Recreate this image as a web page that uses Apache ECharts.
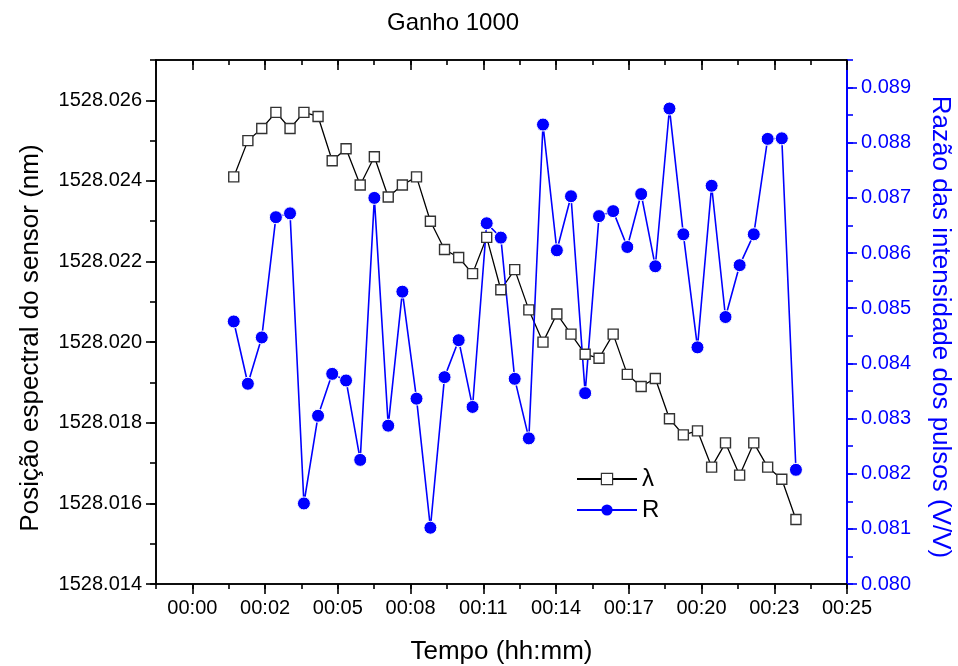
<!DOCTYPE html>
<html>
<head>
<meta charset="utf-8">
<script src="https://cdn.jsdelivr.net/npm/echarts@6/dist/echarts.min.js"></script>
<style>
html,body{margin:0;padding:0;background:#fff;}
#chart{width:958px;height:666px;}
</style>
</head>
<body>
<div id="chart"></div>
<script>
// ---- data ----
const timeMinutes = [1.58, 2.12, 2.65, 3.19, 3.73, 4.26, 4.80, 5.34, 5.87, 6.41, 6.95, 7.48, 8.02, 8.56, 9.09, 9.63, 10.17, 10.70, 11.24, 11.78, 12.31, 12.85, 13.39, 13.92, 14.46, 15.00, 15.53, 16.07, 16.61, 17.14, 17.68, 18.22, 18.75, 19.29, 19.83, 20.36, 20.90, 21.44, 21.97, 22.51, 23.05];
const lambdaValues = [1528.0241, 1528.0250, 1528.0253, 1528.0257, 1528.0253, 1528.0257, 1528.0256, 1528.0245, 1528.0248, 1528.0239, 1528.0246, 1528.0236, 1528.0239, 1528.0241, 1528.0230, 1528.0223, 1528.0221, 1528.0217, 1528.0226, 1528.0213, 1528.0218, 1528.0208, 1528.0200, 1528.0207, 1528.0202, 1528.0197, 1528.0196, 1528.0202, 1528.0192, 1528.0189, 1528.0191, 1528.0181, 1528.0177, 1528.0178, 1528.0169, 1528.0175, 1528.0167, 1528.0175, 1528.0169, 1528.0166, 1528.0156];
const rValues = [0.08476, 0.08363, 0.08447, 0.08665, 0.08672, 0.08146, 0.08305, 0.08381, 0.08369, 0.08225, 0.08700, 0.08287, 0.08530, 0.08336, 0.08102, 0.08375, 0.08442, 0.08321, 0.08654, 0.08628, 0.08372, 0.08264, 0.08833, 0.08605, 0.08703, 0.08346, 0.08667, 0.08676, 0.08611, 0.08707, 0.08576, 0.08862, 0.08634, 0.08429, 0.08722, 0.08484, 0.08578, 0.08634, 0.08807, 0.08808, 0.08207];
const xTickLabels = ["00:00", "00:02", "00:05", "00:08", "00:11", "00:14", "00:17", "00:20", "00:23", "00:25"];
const leftTickValues = [1528.014, 1528.016, 1528.018, 1528.020, 1528.022, 1528.024, 1528.026];
const rightTickValues = [0.080, 0.081, 0.082, 0.083, 0.084, 0.085, 0.086, 0.087, 0.088, 0.089];

// ---- axis setup ----
const X_STEP = 25 / 9;           // minutes between labelled ticks
const X_HALF = X_STEP / 2;
const X_MIN = -X_HALF;
const X_MAX = 25;
const xMajor = xTickLabels.map((_, i) => i * X_STEP);

const FONT = 'Liberation Sans, Arial, sans-serif';
const BLACK = '#000';
const BLUE = '#0000ff';

function xAxisBase(pos) {
  return {
    type: 'value', position: pos, min: X_MIN, max: X_MAX,
    splitLine: {show: false},
    axisLine: {show: true, onZero: false, lineStyle: {color: BLACK, width: 1.6}},
  };
}

const chart = echarts.init(document.getElementById('chart'), null, {renderer: 'canvas'});
chart.setOption({
  animation: false,
  backgroundColor: '#fff',
  title: {
    text: 'Ganho 1000', left: 382, top: 6,
    textStyle: {fontFamily: FONT, fontSize: 24, fontWeight: 'normal', color: BLACK}
  },
  grid: {left: 156, right: 111, top: 60, bottom: 82, containLabel: false, outerBoundsMode: 'none'},
  legend: {
    orient: 'vertical', left: 571, top: 462, itemWidth: 60, itemHeight: 14, itemGap: 7,
    textStyle: {fontFamily: FONT, fontSize: 24, color: BLACK},
    data: [
      {name: 'λ', itemStyle: {borderWidth: 1.2}},
      {name: 'R', itemStyle: {borderWidth: 0}}
    ]
  },
  xAxis: [
    Object.assign(xAxisBase('bottom'), {
      name: 'Tempo (hh:mm)', nameLocation: 'middle', nameGap: 55,
      nameTextStyle: {fontFamily: FONT, fontSize: 26, color: BLACK},
      axisTick: {show: true, inside: false, length: 10, customValues: xMajor, lineStyle: {color: BLACK, width: 1.6}},
      axisLabel: {show: true, customValues: xMajor, margin: 14, fontFamily: FONT, fontSize: 20, color: BLACK,
        formatter: v => xTickLabels[Math.round(v / X_STEP)]}
    }),
    Object.assign(xAxisBase('bottom'), {
      interval: X_HALF,
      axisTick: {show: true, inside: false, length: 5, lineStyle: {color: BLACK, width: 1.6}},
      axisLabel: {show: false}
    }),
    Object.assign(xAxisBase('top'), {
      axisTick: {show: true, inside: true, length: 10, customValues: xMajor, lineStyle: {color: BLACK, width: 1.6}},
      axisLabel: {show: false}
    }),
    Object.assign(xAxisBase('top'), {
      interval: X_HALF,
      axisTick: {show: true, inside: true, length: 5, lineStyle: {color: BLACK, width: 1.6}},
      axisLabel: {show: false}
    })
  ],
  yAxis: [
    {
      type: 'value', position: 'left', min: 1528.014, max: 1528.027,
      name: 'Posição espectral do sensor (nm)', nameLocation: 'middle', nameGap: 112,
      nameTextStyle: {fontFamily: FONT, fontSize: 26, color: BLACK, padding: [0, 32, 0, 0]},
      splitLine: {show: false},
      axisLine: {show: true, onZero: false, lineStyle: {color: BLACK, width: 1.6}},
      axisTick: {show: true, length: 10, customValues: leftTickValues, lineStyle: {color: BLACK, width: 1.6}},
      axisLabel: {show: true, customValues: leftTickValues, margin: 14, fontFamily: FONT, fontSize: 20, color: BLACK,
        formatter: v => v.toFixed(3)}
    },
    {
      type: 'value', position: 'left', min: 1528.014, max: 1528.027, interval: 0.001,
      splitLine: {show: false},
      axisLine: {show: true, onZero: false, lineStyle: {color: BLACK, width: 1.6}},
      axisTick: {show: true, length: 6, lineStyle: {color: BLACK, width: 1.6}},
      axisLabel: {show: false}
    },
    {
      type: 'value', position: 'right', min: 0.080, max: 0.0895,
      name: 'Razão das intensidade dos pulsos (V/V)', nameLocation: 'middle', nameGap: 80, nameRotate: -90,
      nameTextStyle: {fontFamily: FONT, fontSize: 26, color: BLUE, padding: [0, 0, 0, 10]},
      splitLine: {show: false},
      axisLine: {show: true, onZero: false, lineStyle: {color: BLUE, width: 1.8}},
      axisTick: {show: true, length: 10, customValues: rightTickValues, lineStyle: {color: BLUE, width: 1.6}},
      axisLabel: {show: true, customValues: rightTickValues, margin: 14, fontFamily: FONT, fontSize: 20, color: BLUE,
        formatter: v => v.toFixed(3)}
    },
    {
      type: 'value', position: 'right', min: 0.080, max: 0.0895, interval: 0.0005,
      splitLine: {show: false},
      axisLine: {show: true, onZero: false, lineStyle: {color: BLUE, width: 1.8}},
      axisTick: {show: true, length: 6, lineStyle: {color: BLUE, width: 1.6}},
      axisLabel: {show: false}
    }
  ],
  series: [
    {
      name: 'λ', type: 'line', xAxisIndex: 0, yAxisIndex: 0,
      data: timeMinutes.map((t, i) => [t, lambdaValues[i]]),
      symbol: 'rect', symbolSize: 10, showAllSymbol: true,
      lineStyle: {color: BLACK, width: 1.3},
      itemStyle: {color: '#fff', borderColor: '#333', borderWidth: 1.4},
      emphasis: {disabled: true}
    },
    {
      name: 'R', type: 'line', xAxisIndex: 0, yAxisIndex: 2,
      data: timeMinutes.map((t, i) => [t, rValues[i]]),
      symbol: 'circle', symbolSize: 13, showAllSymbol: true,
      lineStyle: {color: BLUE, width: 1.6},
      itemStyle: {color: BLUE, borderColor: '#fff', borderWidth: 1},
      emphasis: {disabled: true}
    }
  ]
});
</script>
</body>
</html>
